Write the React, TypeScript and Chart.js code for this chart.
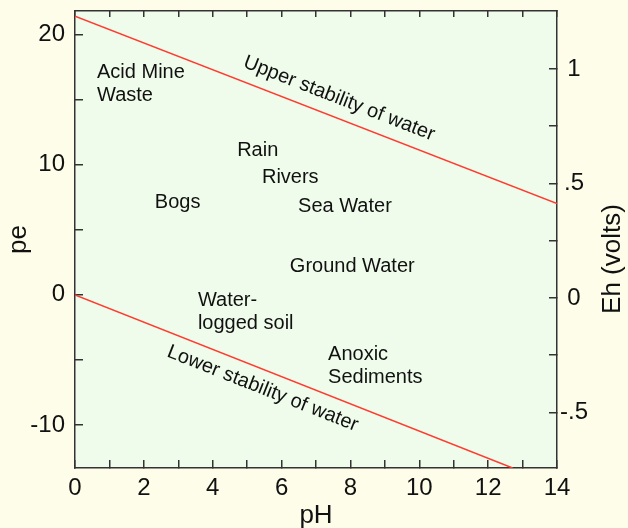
import React, { useEffect, useRef } from 'react';
import { Chart, registerables } from 'chart.js';

Chart.register(...registerables);

// ---- data ----
const upperLinePH = [0, 14];
const upperLinePe = [21.4, 7.0];
const lowerLinePH = [0, 12.71];
const lowerLinePe = [0, -13.29];

const xTicks = [0, 1, 2, 3, 4, 5, 6, 7, 8, 9, 10, 11, 12, 13, 14];
const xLabels = [0, 2, 4, 6, 8, 10, 12, 14];
const peTicks = [-10, -5, 0, 5, 10, 15, 20];
const peLabels = [-10, 0, 10, 20];
const ehTicks = [-0.5, -0.25, 0, 0.25, 0.5, 0.75, 1];
const ehLabelValues = [-0.5, 0, 0.5, 1];
const ehLabelTexts = ['-.5', '0', '.5', '1'];

const regionNames = [
  ['Acid Mine', 'Waste'],
  ['Rain'],
  ['Rivers'],
  ['Sea Water'],
  ['Bogs'],
  ['Ground Water'],
  ['Water-', 'logged soil'],
  ['Anoxic', 'Sediments'],
];
const regionPH = [0.64, 4.71, 5.43, 6.48, 2.32, 6.24, 3.57, 7.35];
const regionPe = [16.64, 10.65, 8.58, 6.35, 6.66, 1.74, -0.87, -5.01];

const upperLabel = 'Upper stability of water';
const upperLabelPH = 7.67;
const upperLabelPe = 15.07;
const lowerLabel = 'Lower stability of water';
const lowerLabelPH = 5.45;
const lowerLabelPe = -7.2;

const peRange = [-13.29, 21.79];
const ehRange = [-0.743, 1.253];
const phRange = [0, 14];

const FONT = 'Liberation Sans, Arial, Helvetica, sans-serif';
const OUTER_BG = '#fefde9';
const INNER_BG = '#f0fceb';
const AXIS = '#333333';
const RED = '#ff3b30';
const TEXT = '#111111';

const zeroPad = (s: any) => {
  s.paddingTop = 0;
  s.paddingBottom = 0;
  s.paddingLeft = 0;
  s.paddingRight = 0;
};

export default function App() {
  const ref = useRef<HTMLCanvasElement | null>(null);

  useEffect(() => {
    const canvas = ref.current;
    if (!canvas) return;

    const bgPlugin = {
      id: 'bg',
      beforeDraw(chart: any) {
        const { ctx, chartArea } = chart;
        ctx.save();
        ctx.fillStyle = OUTER_BG;
        ctx.fillRect(0, 0, chart.width, chart.height);
        ctx.fillStyle = INNER_BG;
        ctx.fillRect(chartArea.left, chartArea.top, chartArea.right - chartArea.left, chartArea.bottom - chartArea.top);
        ctx.restore();
      },
    };

    const labelPlugin = {
      id: 'labels',
      afterDatasetsDraw(chart: any) {
        const { ctx, scales } = chart;
        const xs = scales.x;
        const ys = scales.y;
        ctx.save();
        ctx.fillStyle = TEXT;
        ctx.font = `20px ${FONT}`;
        ctx.textAlign = 'left';
        ctx.textBaseline = 'alphabetic';
        regionNames.forEach((lines, i) => {
          const px = xs.getPixelForValue(regionPH[i]);
          const py = ys.getPixelForValue(regionPe[i]);
          lines.forEach((t, j) => ctx.fillText(t, px, py + j * 23));
        });

        const drawRot = (text: string, ph: number, pe: number, linePH: number[], linePe: number[]) => {
          const x1 = xs.getPixelForValue(linePH[0]);
          const y1 = ys.getPixelForValue(linePe[0]);
          const x2 = xs.getPixelForValue(linePH[1]);
          const y2 = ys.getPixelForValue(linePe[1]);
          const ang = Math.atan2(y2 - y1, x2 - x1);
          ctx.save();
          ctx.translate(xs.getPixelForValue(ph), ys.getPixelForValue(pe));
          ctx.rotate(ang);
          ctx.textAlign = 'center';
          ctx.textBaseline = 'middle';
          ctx.fillText(text, 0, 0);
          ctx.restore();
        };
        drawRot(upperLabel, upperLabelPH, upperLabelPe, upperLinePH, upperLinePe);
        drawRot(lowerLabel, lowerLabelPH, lowerLabelPe, lowerLinePH, lowerLinePe);

        // right axis title (reads bottom to top)
        const y2s = scales.y2;
        ctx.save();
        ctx.font = `26px ${FONT}`;
        ctx.translate(y2s.right - 15, 259);
        ctx.rotate(-Math.PI / 2);
        ctx.textAlign = 'center';
        ctx.textBaseline = 'middle';
        ctx.fillText('Eh (volts)', 0, 0);
        ctx.restore();
        ctx.restore();
      },
    };

    const tickFont = { family: FONT, size: 24 };
    const titleFont = { family: FONT, size: 26 };
    const gridCommon = { drawOnChartArea: false, drawTicks: true, color: AXIS, lineWidth: 1.5 };
    const borderCommon = { display: true, color: AXIS, width: 1.5 };

    const chart = new Chart(canvas, {
      type: 'line',
      data: {
        datasets: [
          {
            data: upperLinePH.map((v, i) => ({ x: v, y: upperLinePe[i] })),
            borderColor: RED,
            borderWidth: 1.5,
            pointRadius: 0,
            xAxisID: 'x',
            yAxisID: 'y',
          },
          {
            data: lowerLinePH.map((v, i) => ({ x: v, y: lowerLinePe[i] })),
            borderColor: RED,
            borderWidth: 1.5,
            pointRadius: 0,
            xAxisID: 'x',
            yAxisID: 'y',
          },
        ],
      },
      options: {
        responsive: false,
        animation: false,
        devicePixelRatio: 1,
        layout: { padding: 0 },
        plugins: { legend: { display: false }, tooltip: { enabled: false }, title: { display: false } },
        scales: {
          x: {
            type: 'linear',
            position: 'bottom',
            min: phRange[0],
            max: phRange[1],
            afterBuildTicks: (s: any) => { s.ticks = xTicks.map((v) => ({ value: v })); },
            ticks: {
              autoSkip: false,
              maxRotation: 0,
              padding: 14,
              font: tickFont,
              color: TEXT,
              callback: (v: any) => (xLabels.includes(Number(v)) ? String(v) : ''),
            },
            grid: { ...gridCommon, tickLength: -8 },
            border: borderCommon,
            title: { display: true, text: 'pH', font: titleFont, color: TEXT, padding: { top: 0, bottom: -3 } },
            afterFit: (s: any) => { s.height = 60; zeroPad(s); },
          },
          x2: {
            type: 'linear',
            position: 'top',
            min: phRange[0],
            max: phRange[1],
            afterBuildTicks: (s: any) => { s.ticks = xTicks.map((v) => ({ value: v })); },
            ticks: { display: false },
            grid: { ...gridCommon, tickLength: -6 },
            border: borderCommon,
            afterFit: (s: any) => { s.height = 11; zeroPad(s); },
          },
          y: {
            type: 'linear',
            position: 'left',
            min: peRange[0],
            max: peRange[1],
            afterBuildTicks: (s: any) => { s.ticks = peTicks.map((v) => ({ value: v })); },
            ticks: {
              autoSkip: false,
              padding: 18,
              font: tickFont,
              color: TEXT,
              callback: (v: any) => (peLabels.includes(Number(v)) ? String(v) : ''),
            },
            grid: { ...gridCommon, tickLength: -8 },
            border: borderCommon,
            title: { display: true, text: 'pe', font: titleFont, color: TEXT, padding: { top: 3, bottom: 0 } },
            afterFit: (s: any) => { s.width = 75; zeroPad(s); },
          },
          y2: {
            type: 'linear',
            position: 'right',
            min: ehRange[0],
            max: ehRange[1],
            afterBuildTicks: (s: any) => { s.ticks = ehTicks.map((v) => ({ value: v })); },
            ticks: {
              autoSkip: false,
              padding: 11,
              crossAlign: 'center',
              font: tickFont,
              color: TEXT,
              callback: (v: any) => {
                const k = ehLabelValues.indexOf(Number(v));
                return k >= 0 ? ehLabelTexts[k] : '';
              },
            },
            grid: { ...gridCommon, tickLength: -8 },
            border: borderCommon,
            afterFit: (s: any) => { s.width = 71; zeroPad(s); },
          },
        },
      } as any,
      plugins: [bgPlugin, labelPlugin],
    });

    return () => chart.destroy();
  }, []);

  return (
    <div style={{ position: 'absolute', left: 0, top: 0, width: 628, height: 528 }}>
      <canvas ref={ref} width={628} height={528} style={{ display: 'block' }} />
    </div>
  );
}
